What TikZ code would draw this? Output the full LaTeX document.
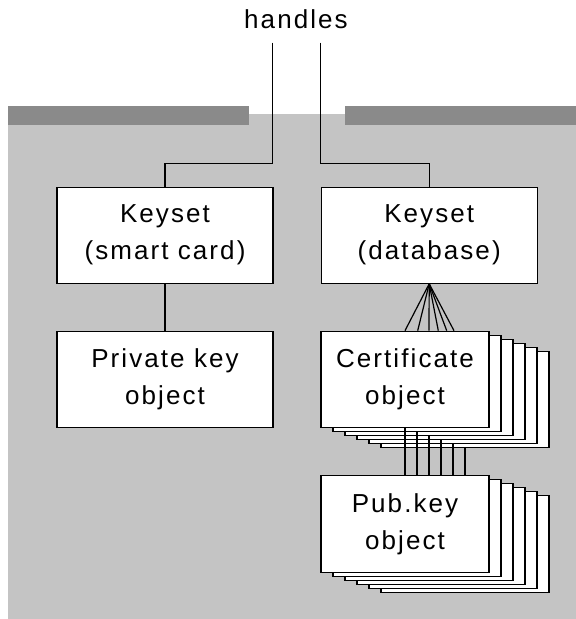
\documentclass[tikz,border=0pt]{standalone}
\usepackage{fontspec}
\setmainfont[LetterSpace=8]{Liberation Sans}
\usepackage{tikz}
\usetikzlibrary{calc,positioning}
\definecolor{panel}{gray}{0.77}
\definecolor{lid}{gray}{0.54}
\tikzset{
block/.style={
  rectangle,
  draw,
  fill=white,
  line width=1.2pt,
  align=center,
  inner sep=0pt,
  font=\fontsize{26}{37}\selectfont,
  execute at begin node={\rule{0pt}{24pt}},
  minimum width=216pt,
  minimum height=96pt},
stackblock/.style={
  block,
  minimum width=168pt,
  minimum height=96.5pt},
line/.style={draw, line width=1.2pt}
}
\begin{document}
\begin{tikzpicture}[x=1pt,y=-1pt]
    \useasboundingbox (0,0) rectangle (576,619);
    \fill[panel] (8,114) rectangle (576,619);
    \fill[lid] (8,106) rectangle (249,125);
    \fill[lid] (345,106) rectangle (576,125);
    \node[font=\fontsize{26}{30}\selectfont, anchor=base] (handles) at (296,28.3) {handles};
    \coordinate (hl) at (272.6,42.7);
    \coordinate (hr) at (320.7,42.7);
    \node [block] (kscard) at (165,235.2) {Keyset\\(smart card)};
    \node [block] (ksdb) at (429.2,235.2) {Keyset\\(database)};
    \node [block] (privkey) at (165,379.7) {Private key\\object};
    \foreach \i in {5,4,...,1}
      \node [stackblock] (cert\i) at ({405+12*\i},{379.5+4*\i}) {};
    \node [stackblock] (cert0) at (405,379.5) {Certificate\\object};
    \foreach \i in {5,4,...,1}
      \node [stackblock] (pub\i) at ({405+12*\i},{524+4*\i}) {};
    \node [stackblock] (pub0) at (405,524) {Pub.key\\object};
    \path [line] (hl) -- ++(0,120.6) -| (kscard.north);
    \path [line] (hr) -- ++(0,120.6) -| (ksdb.north);
    \path [line] (kscard) -- (privkey);
    \foreach \dx in {0,12.7,24,33.3,41.7,49}
      \path [line] (ksdb.south) -- ([xshift=\dx]cert0.north);
    \foreach \i in {0,...,5}
      \path [line] (cert\i.south) -- (cert\i.south |- pub0.north);
\end{tikzpicture}
\end{document}
